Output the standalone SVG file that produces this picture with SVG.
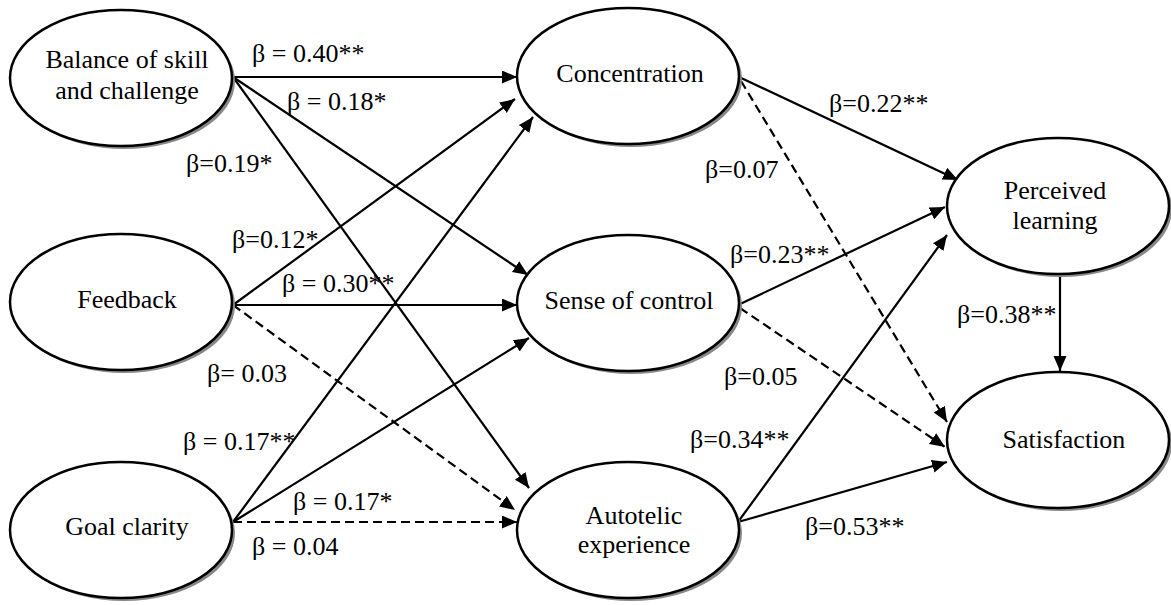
<svg xmlns="http://www.w3.org/2000/svg" width="1171" height="605" viewBox="0 0 1171 605">
  <defs>
    <marker id="arrow" markerUnits="userSpaceOnUse" markerWidth="16" markerHeight="14" refX="15" refY="6.5" orient="auto">
      <path d="M0,0 L15,6.5 L0,13 z" fill="#000"/>
    </marker>
  </defs>
  <style>
    .shadow { fill: #888; stroke: none; }
    .node { fill: #fff; stroke: #000; stroke-width: 2.5; }
    .edge { stroke: #000; stroke-width: 2.2; fill: none; marker-end: url(#arrow); }
    .dash { stroke-dasharray: 9 5; }
  </style>
  <rect width="1171" height="605" fill="#fff"/>

  <!-- connectors -->
  <g id="connectors">
    <line class="edge" x1="233" y1="77" x2="517" y2="77"/>
    <line class="edge" x1="233" y1="77" x2="528" y2="275"/>
    <line class="edge" x1="233" y1="77" x2="529" y2="488"/>
    <line class="edge" x1="233" y1="305" x2="515" y2="99"/>
    <line class="edge" x1="233" y1="305" x2="517" y2="305"/>
    <line class="edge dash" x1="233" y1="305" x2="515" y2="510"/>
    <line class="edge" x1="233" y1="522" x2="533" y2="117"/>
    <line class="edge" x1="233" y1="522" x2="529" y2="338"/>
    <line class="edge dash" x1="233" y1="522" x2="517" y2="522"/>
    <line class="edge" x1="739" y1="77" x2="958" y2="180"/>
    <line class="edge dash" x1="741" y1="81" x2="947" y2="422"/>
    <line class="edge" x1="738" y1="305" x2="945" y2="207"/>
    <line class="edge dash" x1="740" y1="308" x2="945" y2="447"/>
    <line class="edge" x1="738" y1="522" x2="947" y2="235"/>
    <line class="edge" x1="738" y1="522" x2="947" y2="462"/>
    <line class="edge" x1="1060" y1="275" x2="1060" y2="371"/>
  </g>

  <!-- path coefficients -->
  <g id="labels" font-family="Liberation Serif" font-size="26" fill="#000" style="font-family: 'Liberation Serif', serif; font-size: 26px">
    <text x="252" y="62">β = 0.40**</text>
    <text x="287" y="110">β = 0.18*</text>
    <text x="186" y="172">β=0.19*</text>
    <text x="232" y="248">β=0.12*</text>
    <text x="282" y="292">β = 0.30**</text>
    <text x="207" y="382">β= 0.03</text>
    <text x="183" y="450">β = 0.17**</text>
    <text x="293" y="510">β = 0.17*</text>
    <text x="252" y="555">β = 0.04</text>
    <text x="829" y="112">β=0.22**</text>
    <text x="705" y="178">β=0.07</text>
    <text x="730" y="263">β=0.23**</text>
    <text x="724" y="385">β=0.05</text>
    <text x="690" y="448">β=0.34**</text>
    <text x="805" y="535">β=0.53**</text>
    <text x="957" y="323">β=0.38**</text>
  </g>

  <!-- nodes -->
  <g id="nodes" font-family="Liberation Serif" font-size="26" text-anchor="middle" style="font-family: 'Liberation Serif', serif; font-size: 26px">
    <g id="balance">
      <ellipse class="shadow" cx="124" cy="81" rx="111" ry="68"/>
      <ellipse class="node" cx="121" cy="78" rx="111" ry="68"/>
      <text x="127" y="68">Balance of skill</text>
      <text x="127" y="99">and challenge</text>
    </g>
    <g id="feedback">
      <ellipse class="shadow" cx="124" cy="305" rx="111" ry="68"/>
      <ellipse class="node" cx="121" cy="302" rx="111" ry="68"/>
      <text x="127" y="308">Feedback</text>
    </g>
    <g id="goal-clarity">
      <ellipse class="shadow" cx="124" cy="533" rx="111" ry="68"/>
      <ellipse class="node" cx="121" cy="530" rx="111" ry="68"/>
      <text x="127" y="535">Goal clarity</text>
    </g>
    <g id="concentration">
      <ellipse class="shadow" cx="631" cy="79" rx="111" ry="68"/>
      <ellipse class="node" cx="628" cy="76" rx="111" ry="68"/>
      <text x="630" y="82">Concentration</text>
    </g>
    <g id="sense-of-control">
      <ellipse class="shadow" cx="631" cy="306" rx="111" ry="68"/>
      <ellipse class="node" cx="628" cy="303" rx="111" ry="68"/>
      <text x="629" y="309">Sense of control</text>
    </g>
    <g id="autotelic-experience">
      <ellipse class="shadow" cx="631" cy="533" rx="111" ry="68"/>
      <ellipse class="node" cx="628" cy="530" rx="111" ry="68"/>
      <text x="634" y="524">Autotelic</text>
      <text x="634" y="553">experience</text>
    </g>
    <g id="perceived-learning">
      <ellipse class="shadow" cx="1061" cy="209" rx="111" ry="68"/>
      <ellipse class="node" cx="1058" cy="206" rx="111" ry="68"/>
      <text x="1055" y="199">Perceived</text>
      <text x="1055" y="229">learning</text>
    </g>
    <g id="satisfaction">
      <ellipse class="shadow" cx="1061" cy="443" rx="111" ry="68"/>
      <ellipse class="node" cx="1058" cy="440" rx="111" ry="68"/>
      <text x="1064" y="448">Satisfaction</text>
    </g>
  </g>
</svg>
